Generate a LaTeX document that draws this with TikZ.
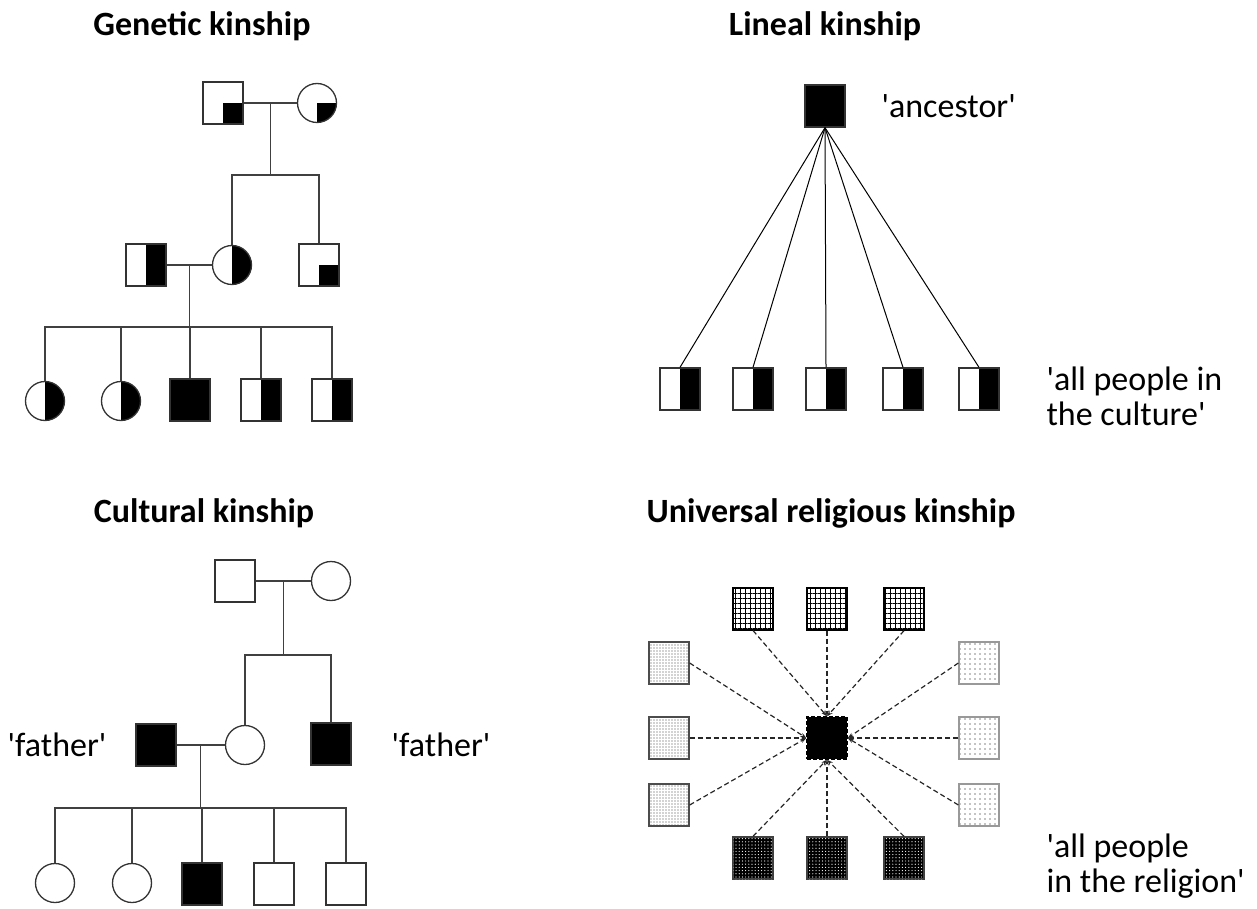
\documentclass[tikz,border=0pt]{standalone}
\usepackage{fontspec}
\setmainfont{Carlito}[Ligatures=TeXOff]
\usepackage{tikz}
\usetikzlibrary{calc,arrows.meta,patterns.meta}

\tikzset{
    person/.style={draw=black!80, line width=1.3pt, inner sep=0pt},
    male/.style={person, rectangle, minimum width=40pt, minimum height=42pt},
    female/.style={person, circle, minimum size=39pt},
    halfblack/.style={path picture={\fill [black] (path picture bounding box.north) rectangle (path picture bounding box.south east);}},
    quarterblack/.style={path picture={\fill [black] (path picture bounding box.center) rectangle (path picture bounding box.south east);}},
    allblack/.style={fill=black},
    link/.style={draw=black!75, line width=1.3pt},
    heading/.style={font=\fontsize{34}{38}\selectfont\bfseries},
    note/.style={font=\fontsize{34}{35}\selectfont, align=left},
    gridsq/.style={male, draw=black, pattern={Lines[angle=0, distance=5pt, line width=1pt]},
        postaction={pattern={Lines[angle=90, distance=5pt, line width=1pt]}}},
    graydots/.style={male, draw=black!70, pattern={Dots[radius=0.8pt, distance=3pt]}, pattern color=black!35},
    sparsedots/.style={male, draw=black!40, pattern={Dots[radius=0.7pt, distance=5pt]}, pattern color=black},
    darkdots/.style={male, draw=black!75, fill=black,
        postaction={pattern={Dots[radius=0.6pt, distance=3.2pt]}, pattern color=white}},
    spoke/.style={draw=black!85, line width=1.2pt, dash pattern=on 5pt off 3pt, -{Stealth[length=6pt, width=4pt]}}
}

\begin{document}
\begin{tikzpicture}[x=1pt, y=-1pt]
    \useasboundingbox (0, 0) rectangle (1257, 909);

    \node (gt) at (202, 26) [heading] {Genetic kinship};
    \node (g1) at (223, 103) [male, quarterblack] {};
    \node (g2) at (317, 103) [female, quarterblack] {};
    \node (g3) at (146, 265) [male, halfblack] {};
    \node (g4) at (232, 265) [female, halfblack] {};
    \node (g5) at (319, 265) [male, quarterblack] {};
    \node (g6) at (45, 401) [female, halfblack] {};
    \node (g7) at (121, 401) [female, halfblack] {};
    \node (g8) at (190, 400) [male, allblack] {};
    \node (g9) at (261, 400) [male, halfblack] {};
    \node (g10) at (332, 400) [male, halfblack] {};
    \coordinate (gm1) at ($(g1.east)!0.5!(g2.west)$);
    \coordinate (gs1) at ($(gm1) + (0, 72)$);
    \coordinate (gm2) at ($(g3.east)!0.5!(g4.west)$);
    \coordinate (gs2) at ($(gm2) + (0, 62)$);
    \draw [link] (g1) -- (g2);
    \draw [link] (gm1) -- (gs1);
    \draw [link] (g4.north) |- (gs1);
    \draw [link] (g5.north) |- (gs1);
    \draw [link] (g3) -- (g4);
    \draw [link] (gm2) -- (gs2);
    \foreach \c in {g6, g7, g8, g9, g10}
        \draw [link] (\c.north) |- (gs2);

    \node (lt) at (825, 26) [heading] {Lineal kinship};
    \node (anc) at (825, 106) [male, allblack] {};
    \node (ancl) at (878, 106) [note, anchor=west] {'ancestor'};
    \node (l1) at (680, 389) [male, halfblack] {};
    \node (l2) at (753, 389) [male, halfblack] {};
    \node (l3) at (826, 389) [male, halfblack] {};
    \node (l4) at (903, 389) [male, halfblack] {};
    \node (l5) at (979, 389) [male, halfblack] {};
    \node (alll) at (1043, 396) [note, anchor=west] {'all people in\\the culture'};
    \foreach \c in {l1, l2, l3, l4, l5}
        \draw [black, line width=1pt] (anc.south) -- (\c.north);

    \node (ct) at (204, 513) [heading] {Cultural kinship};
    \node (c1) at (235, 581) [male] {};
    \node (c2) at (331, 581) [female] {};
    \node (c3) at (156, 745) [male, allblack] {};
    \node (c4) at (245, 745) [female] {};
    \node (c5) at (331, 744) [male, allblack] {};
    \node (f1) at (57, 745) [note] {'father'};
    \node (f2) at (441, 745) [note] {'father'};
    \node (c6) at (55, 883) [female] {};
    \node (c7) at (132, 883) [female] {};
    \node (c8) at (202, 884) [male, allblack] {};
    \node (c9) at (274, 884) [male] {};
    \node (c10) at (346, 884) [male] {};
    \coordinate (cm1) at ($(c1.east)!0.5!(c2.west)$);
    \coordinate (cs1) at ($(cm1) + (0, 74)$);
    \coordinate (cm2) at ($(c3.east)!0.5!(c4.west)$);
    \coordinate (cs2) at ($(cm2) + (0, 63)$);
    \draw [link] (c1) -- (c2);
    \draw [link] (cm1) -- (cs1);
    \draw [link] (c4.north) |- (cs1);
    \draw [link] (c5.north) |- (cs1);
    \draw [link] (c3) -- (c4);
    \draw [link] (cm2) -- (cs2);
    \foreach \c in {c6, c7, c8, c9, c10}
        \draw [link] (\c.north) |- (cs2);

    \node (rt) at (831, 513) [heading] {Universal religious kinship};
    \node (ctr) at (827, 738) [male, allblack, draw=black, dash pattern=on 4pt off 2pt] {};
    \node (t1) at (753, 609) [gridsq] {};
    \node (t2) at (827, 609) [gridsq] {};
    \node (t3) at (904, 609) [gridsq] {};
    \node (w1) at (669, 663) [graydots] {};
    \node (w2) at (669, 738) [graydots] {};
    \node (w3) at (669, 805) [graydots] {};
    \node (e1) at (979, 663) [sparsedots] {};
    \node (e2) at (979, 738) [sparsedots] {};
    \node (e3) at (979, 805) [sparsedots] {};
    \node (b1) at (753, 858) [darkdots] {};
    \node (b2) at (827, 858) [darkdots] {};
    \node (b3) at (904, 858) [darkdots] {};
    \node (allr) at (1043, 866) [note, anchor=west] {'all people\\in the religion'};
    \foreach \i in {1, 2, 3} {
        \draw [spoke] (t\i.south) -- (ctr.north);
        \draw [spoke] (w\i.east) -- (ctr.west);
        \draw [spoke] (e\i.west) -- (ctr.east);
        \draw [spoke] (b\i.north) -- (ctr.south);
    }
\end{tikzpicture}
\end{document}
